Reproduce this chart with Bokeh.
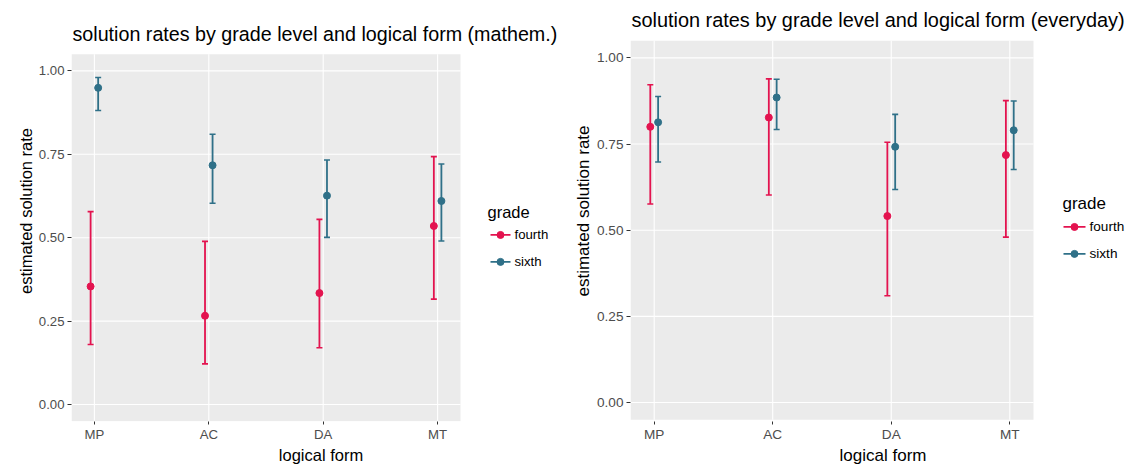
from bokeh.plotting import figure
from bokeh.models import (ColumnDataSource, Range1d, FixedTicker, Whisker, TeeHead,
                          NumeralTickFormatter)
from bokeh.core.properties import value
from bokeh.transform import dodge
from bokeh.layouts import row
from bokeh.embed import file_html
from bokeh.resources import INLINE

# ---------------- data ----------------
forms = ["MP", "AC", "DA", "MT"]
grades = ["fourth", "sixth"]

math_fourth_est = [0.354, 0.266, 0.334, 0.535]
math_fourth_lo = [0.180, 0.122, 0.170, 0.316]
math_fourth_hi = [0.578, 0.489, 0.555, 0.743]
math_sixth_est = [0.949, 0.717, 0.626, 0.610]
math_sixth_lo = [0.881, 0.603, 0.501, 0.490]
math_sixth_hi = [0.980, 0.810, 0.733, 0.721]

every_fourth_est = [0.800, 0.827, 0.541, 0.718]
every_fourth_lo = [0.576, 0.602, 0.310, 0.480]
every_fourth_hi = [0.922, 0.939, 0.755, 0.876]
every_sixth_est = [0.813, 0.885, 0.742, 0.790]
every_sixth_lo = [0.698, 0.792, 0.618, 0.676]
every_sixth_hi = [0.888, 0.938, 0.836, 0.875]

y_ticks = [0.0, 0.25, 0.5, 0.75, 1.0]

FONT = "Liberation Sans"
COLORS = {"fourth": "#E3134F", "sixth": "#2F7088"}
PANEL_BG = "#EBEBEB"

# panel extents in data units (ggplot-like expansion)
X_LO, X_HI = 0.8, len(forms) + 0.2
Y_LO, Y_HI = -0.05, 1.05

H = 467          # figure height
FRAME_BOTTOM = 422


def make_panel(title, data, w, frame_left, panel_right, y1_px, y0_px, s,
               title_y_px, title_size, leg):
    pos = list(range(1, len(forms) + 1))
    ppx = (panel_right - frame_left) / (X_HI - X_LO)
    ppy = (y0_px - y1_px)
    x_end = X_LO + (w - frame_left) / ppx
    y_start = -(FRAME_BOTTOM - y0_px) / ppy
    y_end = 1 + y1_px / ppy

    def px_x(px):
        return X_LO + (px - frame_left) / ppx

    def px_y(py):
        return 1 + (y1_px - py) / ppy

    p = figure(width=w, height=H,
               x_range=Range1d(X_LO, x_end),
               y_range=Range1d(y_start, y_end),
               output_backend="svg", toolbar_location=None,
               min_border_left=frame_left, min_border_right=0,
               min_border_top=0, min_border_bottom=H - FRAME_BOTTOM,
               background_fill_color="white", border_fill_color="white",
               outline_line_color=None)
    p.grid.visible = False

    # ggplot-style panel background and grid
    p.quad(left=[X_LO], right=[X_HI], bottom=[Y_LO], top=[Y_HI],
           fill_color=PANEL_BG, line_color=None)
    p.segment(x0=[X_LO] * len(y_ticks), x1=[X_HI] * len(y_ticks),
              y0=y_ticks, y1=y_ticks, line_color="white", line_width=1.1)
    p.segment(x0=pos, x1=pos, y0=[Y_LO] * len(pos), y1=[Y_HI] * len(pos),
              line_color="white", line_width=1.1)

    for g, off in zip(grades, [-0.033, 0.033]):
        est, lo, hi = data[g]
        src = ColumnDataSource(dict(pos=pos, est=est, lo=lo, hi=hi))
        xs = dodge("pos", off)
        p.segment(x0=xs, x1=xs, y0="lo", y1="hi", source=src,
                  line_color=COLORS[g], line_width=1.8)
        wk = Whisker(base=xs, lower="lo", upper="hi", source=src,
                     line_alpha=0, level="annotation",
                     upper_head=TeeHead(size=6, line_color=COLORS[g], line_width=1.6),
                     lower_head=TeeHead(size=6, line_color=COLORS[g], line_width=1.6))
        p.add_layout(wk)
        p.scatter(x=xs, y="est", source=src, size=7, marker="circle",
                  fill_color=COLORS[g], line_color=COLORS[g])

    # axes
    p.xaxis.ticker = FixedTicker(ticks=pos)
    p.xaxis.major_label_overrides = {k: f for k, f in zip(pos, forms)}
    p.yaxis.ticker = FixedTicker(ticks=y_ticks)
    p.yaxis.formatter = NumeralTickFormatter(format="0.00")
    p.xaxis.axis_label = "logical form"
    p.yaxis.axis_label = "estimated solution rate"
    for ax in (p.xaxis, p.yaxis):
        ax.axis_line_color = None
        ax.major_tick_line_color = "#333333"
        ax.major_tick_out = 4
        ax.major_tick_in = 0
        ax.minor_tick_line_color = None
        ax.major_label_text_font = FONT
        ax.major_label_text_font_size = f"{13.2 * s:.1f}px"
        ax.major_label_text_color = "#4D4D4D"
        ax.axis_label_text_font = FONT
        ax.axis_label_text_font_size = f"{16.5 * s:.1f}px"
        ax.axis_label_text_font_style = "normal"
        ax.axis_label_text_color = "black"
    p.xaxis.major_tick_out = 3
    p.xaxis.major_label_standoff = 2
    p.xaxis.axis_label_standoff = 1
    p.yaxis.major_label_standoff = 3
    p.yaxis.axis_label_standoff = 1

    # title (text above the panel)
    p.text(x=[px_x(frame_left + 1)], y=[px_y(title_y_px)], text=[title],
           text_font=value(FONT), text_font_size=title_size,
           text_color="black", text_baseline="middle", text_align="left")

    # legend "grade" (keys: line + point, as in ggplot)
    tx, ty, kx0, kx1, lx, ly0, dy = leg
    p.text(x=[px_x(tx)], y=[px_y(ty)], text=["grade"],
           text_font=value(FONT), text_font_size=f"{16.5 * s:.1f}px",
           text_color="black", text_baseline="middle", text_align="left")
    for i, g in enumerate(grades):
        yy = px_y(ly0 + i * dy)
        p.segment(x0=[px_x(kx0)], x1=[px_x(kx1)], y0=[yy], y1=[yy],
                  line_color=COLORS[g], line_width=1.8)
        p.scatter(x=[px_x((kx0 + kx1) / 2)], y=[yy], size=7, marker="circle",
                  fill_color=COLORS[g], line_color=COLORS[g])
        p.text(x=[px_x(lx)], y=[yy], text=[g],
               text_font=value(FONT), text_font_size=f"{13.2 * s:.1f}px",
               text_color="black", text_baseline="middle", text_align="left")
    return p


left = make_panel("solution rates by grade level and logical form (mathem.)",
                  {"fourth": (math_fourth_est, math_fourth_lo, math_fourth_hi),
                   "sixth": (math_sixth_est, math_sixth_lo, math_sixth_hi)},
                  570, 71, 460, 70.5, 405, 1.0, 34, "19.7px",
                  (487, 212, 490, 510, 514, 235, 27))
right = make_panel("solution rates by grade level and logical form (everyday)",
                   {"fourth": (every_fourth_est, every_fourth_lo, every_fourth_hi),
                    "sixth": (every_sixth_est, every_sixth_lo, every_sixth_hi)},
                   565, 60, 463, 57.5, 403, 1.03, 20, "19.9px",
                   (492, 203, 493, 515, 519, 227, 27))

layout = row(left, right)
open("out.html", "w").write(file_html(layout, INLINE))
